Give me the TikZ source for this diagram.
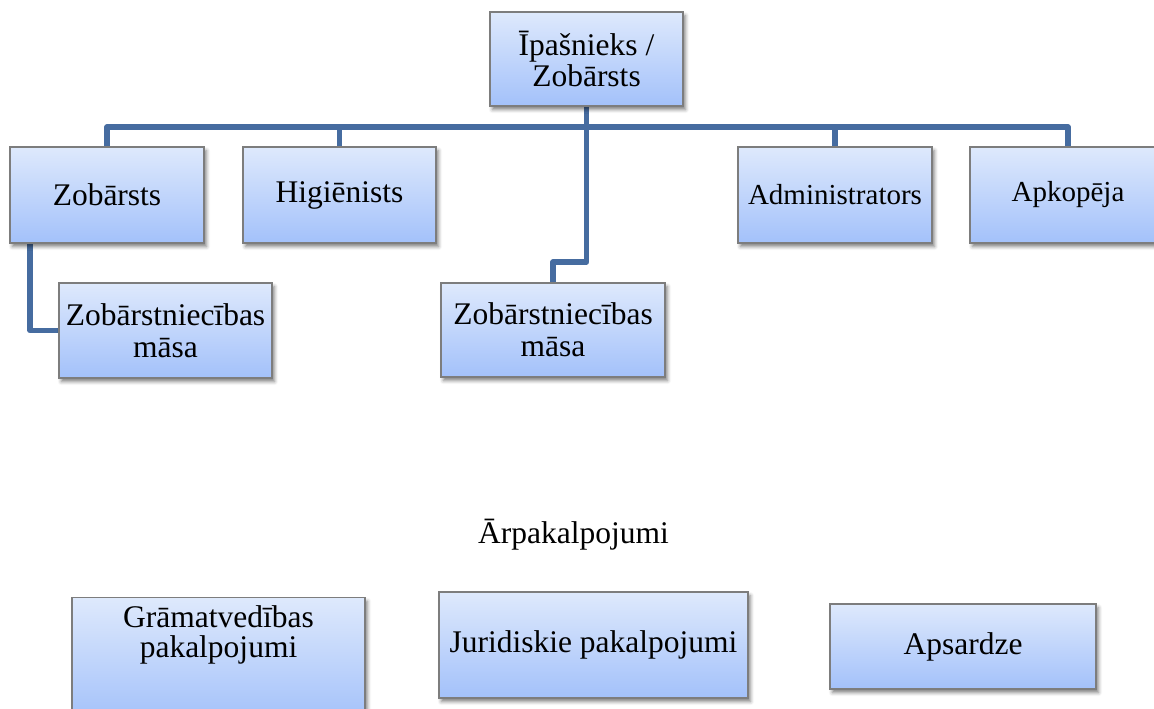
\documentclass[tikz,border=0pt]{standalone}
\usepackage{fontspec}
\setmainfont{Liberation Serif}
\usetikzlibrary{shadows.blur,backgrounds}
\definecolor{boxtop}{RGB}{222,233,252}
\definecolor{boxbot}{RGB}{163,193,250}
\definecolor{boxline}{RGB}{125,125,125}
\definecolor{conn}{RGB}{70,108,160}
\tikzset{
  orgbox/.style={rectangle, draw=boxline, line width=0.6pt, top color=boxtop, bottom color=boxbot,
    inner sep=0pt, align=center,
    blur shadow={shadow xshift=1.2pt, shadow yshift=-1.8pt, shadow blur radius=1.8pt, shadow opacity=50},
    font=\fontsize{15.75}{16}\selectfont},
  link/.style={draw=conn, line width=2.75pt, line join=round},
  plaintext/.style={inner sep=0pt, align=center, font=\fontsize{15.75}{15}\selectfont}
}
\begin{document}
\begin{tikzpicture}[x=0.5pt, y=-0.5pt]
\useasboundingbox (0,0) rectangle (1154,708);
\clip (0,0) rectangle (1154,708);

% top row
\node[orgbox, minimum width=96.5pt, minimum height=47pt, font=\fontsize{15.75}{13.75}\selectfont] (own) at (586.5,59) {Īpašnieks /\\Zobārsts};

% second row
\node[orgbox, minimum width=97pt, minimum height=48pt] (zob) at (107,195) {Zobārsts};
\node[orgbox, minimum width=96.5pt, minimum height=48pt] (hig) at (339.5,195) {Higiēnists};
\node[orgbox, minimum width=97pt, minimum height=48pt, font=\fontsize{14.5}{16}\selectfont] (adm) at (835,195) {Administrators};
\node[orgbox, minimum width=98pt, minimum height=48pt, font=\fontsize{14.5}{16}\selectfont] (apk) at (1068,195) {Apkopēja};

% third row
\node[orgbox, minimum width=106.5pt, minimum height=47.5pt] (masa1) at (165.5,330.5) {Zobārstniecības\\māsa};
\node[orgbox, minimum width=112pt, minimum height=47pt] (masa2) at (553,330) {Zobārstniecības\\māsa};

% outsourcing
\node[plaintext, anchor=base] (outs) at (573.5,543) {Ārpakalpojumi};
\node[orgbox, anchor=north, minimum width=146.5pt, minimum height=62pt] (gram) at (218.5,597) {};
\node[plaintext, anchor=north] (gramt) at (218.5,605) {Grāmatvedības\\pakalpojumi};
\node[orgbox, minimum width=154.5pt, minimum height=53pt] (jur) at (593.5,645) {Juridiskie pakalpojumi};
\node[orgbox, minimum width=133pt, minimum height=42.5pt] (aps) at (963,646.5) {Apsardze};

% connectors
\coordinate (barL) at (107,127);
\coordinate (barR) at (1068,127);
\coordinate (bend) at (586.5,262);
\begin{scope}[on background layer]
  \draw[link] (zob.north) -- (barL) -- (barR) -- (apk.north);
  \draw[link] (hig.north) -- (hig.north |- barL);
  \draw[link] (adm.north) -- (adm.north |- barL);
  \draw[link] (own.south) -- (bend) -| (masa2.north);
  \draw[link] ([xshift=-38.5pt]zob.south) |- (masa1.west);
\end{scope}
\end{tikzpicture}
\end{document}
